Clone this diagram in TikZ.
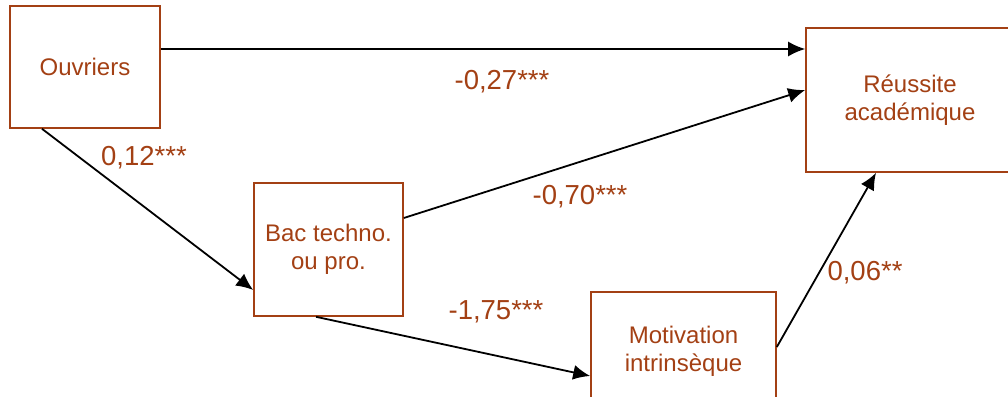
\documentclass[tikz,border=0pt]{standalone}
\usepackage{fontspec}
\setmainfont{Liberation Sans}
\usetikzlibrary{arrows.meta}
\usetikzlibrary{positioning}
\definecolor{brun}{RGB}{163,64,20}

\begin{document}
\begin{tikzpicture}[x=1pt, y=-1pt,
				var/.style={draw=brun, line width=1.6pt, rectangle, text=brun, align=center, inner sep=0pt, font=\fontsize{24}{28}\selectfont},
				coef/.style={text=brun, inner sep=0pt, font=\fontsize{27.5}{31}\selectfont},
				line/.style={draw, line width=1.8pt, -{Latex[length=17pt, width=15pt]}}]

				\useasboundingbox (0,0) rectangle (1008,396);

				\node (ouvriers) at (85, 67) [var, minimum width=150pt, minimum height=122pt] {Ouvriers};
				\node (reussite) at (910, 100) [var, minimum width=208pt, minimum height=144pt] {Réussite\\académique};
				\node (bac) at (328.5, 249.5) [var, minimum width=149pt, minimum height=133pt] {Bac techno.\\ou pro.};
				\node (motivation) at (683.5, 351) [var, minimum width=185pt, minimum height=118pt] {Motivation\\intrinsèque};

				\draw [line] ([yshift=18pt]ouvriers.east) -- ([yshift=51pt]reussite.west);
				\draw [line] ([xshift=-43pt]ouvriers.south) -- ([yshift=-40.5pt]bac.west);
				\draw [line] ([yshift=31.5pt]bac.east) -- ([yshift=10pt]reussite.west);
				\draw [line] ([xshift=-12.5pt]bac.south) -- ([yshift=-25pt]motivation.west);
				\draw [line] ([yshift=4pt]motivation.east) -- ([xshift=-34pt]reussite.south);

				\node (c1) at (502, 82) [coef] {-0,27***};
				\node (c2) at (144, 158) [coef] {0,12***};
				\node (c3) at (580, 197) [coef] {-0,70***};
				\node (c4) at (496, 312) [coef] {-1,75***};
				\node (c5) at (865, 273) [coef] {0,06**};

			\end{tikzpicture}
\end{document}
